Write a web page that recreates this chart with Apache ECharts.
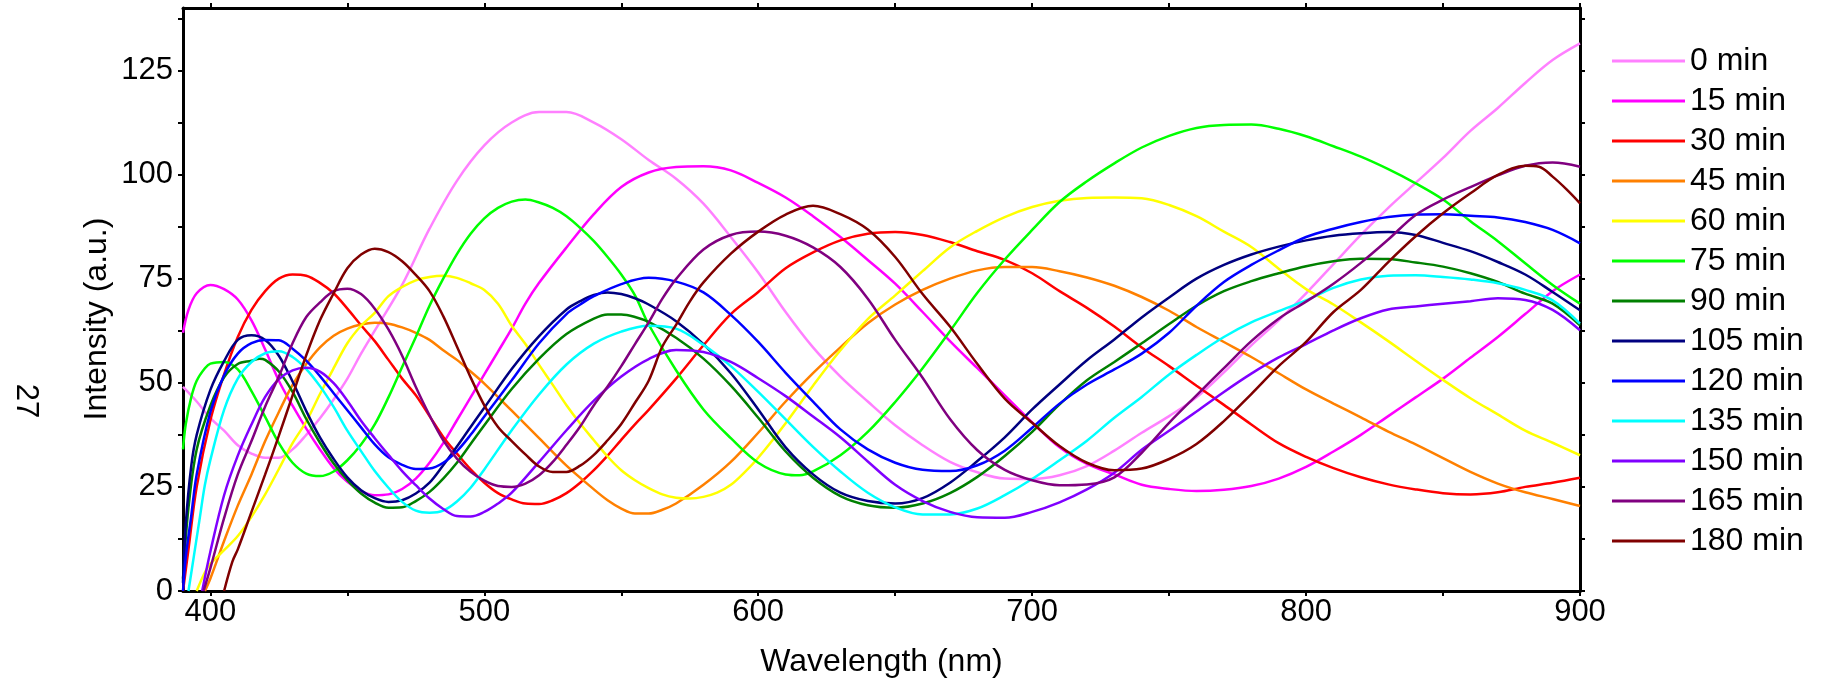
<!DOCTYPE html>
<html><head><meta charset="utf-8">
<script src="https://cdn.jsdelivr.net/npm/echarts@6/dist/echarts.min.js"></script>
<style>html,body{margin:0;padding:0;background:#fff}#c{width:1826px;height:686px}</style>
</head><body><div id="c"></div><script>
const seriesNames = ['0 min','15 min','30 min','45 min','60 min','75 min','90 min','105 min','120 min','135 min','150 min','165 min','180 min'];
const seriesColors = ['#FF80FF','#FF00FF','#FF0000','#FF8000','#FFFF00','#00FF00','#008000','#000080','#0000FF','#00FFFF','#8000FF','#800080','#800000'];
const xLabelValues = [400,500,600,700,800,900];
const xTickValues = [400,450,500,550,600,650,700,750,800,850,900];
const yLabelValues = [0,25,50,75,100,125];
const yTickValues = [0,12.5,25,37.5,50,62.5,75,87.5,100,112.5,125,137.5];

// [wavelength nm, intensity a.u.]
const s0 = [[390,49],[395,45.5],[400,41.5],[405,38.5],[410,35],[415,33],[420,32],[425,32],[430,34],[435,37.5],[440,41.5],[445,46],[450,51],[455,57],[460,62.5],[470,73.5],[480,87],[490,98.5],[500,107],[510,112.5],[520,115],[530,115],[540,112.5],[550,108.5],[560,103.5],[570,99],[580,93],[590,85],[600,76.5],[610,67],[620,58.5],[630,51.5],[640,45.5],[650,39.8],[660,35],[670,31],[680,28.5],[690,27],[700,26.9],[710,27.8],[720,30],[730,33.7],[740,38],[750,42],[760,46.5],[770,52.5],[780,59],[790,65],[800,71.5],[810,78.5],[820,85.5],[830,92],[840,98],[850,104],[860,110.5],[870,116],[880,122],[890,127.5],[900,131.5]];
const s15 = [[390,62],[392,67.5],[395,71.5],[400,73.5],[405,72.5],[410,70],[415,65],[420,58],[425,50.5],[430,44.5],[435,39],[440,34],[445,29.5],[450,26.2],[455,24],[460,23],[465,23.2],[470,24.5],[475,27],[480,30.8],[485,35.5],[490,41],[495,46.5],[500,52],[505,57.5],[510,63],[515,69],[520,74],[530,82.5],[540,90.5],[550,97],[560,100.5],[570,101.8],[580,102],[590,101],[600,98],[610,94.5],[620,90],[630,85],[640,79.5],[650,73.8],[660,67],[670,60],[680,53.5],[690,47],[700,40.5],[710,34.5],[720,30.5],[730,28],[740,25.5],[750,24.5],[760,24],[770,24.3],[780,25.2],[790,27],[800,29.8],[810,33.5],[820,37.5],[830,42],[840,46.5],[850,51],[860,56],[870,61],[880,66.5],[890,72],[900,76]];
const s30 = [[390,0],[392,10],[395,25],[400,41],[405,52],[410,61],[415,67.5],[420,72],[425,75],[430,76],[435,75.7],[440,74],[445,71.5],[450,67.8],[455,63.8],[460,60],[465,55.5],[470,51],[475,47],[480,42],[485,37],[490,33],[495,29.2],[500,26],[505,23.5],[510,22],[515,21],[520,20.9],[525,21.8],[530,23.5],[535,26],[540,29],[545,32.5],[550,36.3],[555,40],[560,43.5],[570,51],[580,59],[590,66.5],[600,71.8],[610,77.5],[620,81.3],[630,84.2],[640,85.8],[650,86.2],[660,85.5],[670,83.8],[680,81.6],[690,79.5],[700,76.3],[710,72],[720,68],[730,63.5],[740,58.5],[750,54],[760,49.3],[770,44.7],[780,40],[790,35.5],[800,32.2],[810,29.5],[820,27.3],[830,25.6],[840,24.4],[850,23.5],[860,23.2],[870,23.7],[880,25],[890,26],[900,27.2]];
const s45 = [[398,0],[400,3],[405,12],[410,20.5],[415,28],[420,36],[425,43],[430,49.5],[435,54.5],[440,58.5],[445,61.3],[450,63],[455,64],[460,64.4],[465,64.2],[470,63.3],[475,62],[480,60.3],[485,57.8],[490,55.5],[495,52.7],[500,49.8],[510,43.3],[520,36.7],[530,30.1],[540,24.4],[545,21.8],[550,19.8],[555,18.6],[560,18.6],[565,19.5],[570,21],[580,25.5],[590,31],[600,38],[610,45.5],[620,52.3],[630,58.5],[640,64.3],[650,68.8],[660,72.3],[670,75],[680,77],[690,77.8],[700,77.8],[710,76.8],[720,75.3],[730,73.3],[740,70.6],[750,67.3],[760,63.4],[770,59.8],[780,56.2],[790,52.3],[800,48.4],[810,45],[820,41.7],[830,38.3],[840,35.2],[850,31.9],[860,28.6],[870,25.8],[880,23.7],[890,22.1],[900,20.4]];
const s60 = [[395,0],[398,4.5],[400,6.5],[405,9.8],[410,13.2],[415,17.8],[420,23.2],[425,29.3],[430,35.5],[435,40.7],[440,47.3],[445,53.5],[450,59.5],[455,63.7],[460,66.8],[465,70.8],[470,73],[475,74.6],[480,75.4],[485,75.7],[490,75.2],[495,73.9],[500,72.3],[505,69],[510,63.7],[515,59.3],[520,54.3],[525,49.5],[530,44.6],[535,40.2],[540,36.2],[545,32.3],[550,29],[555,26.6],[560,24.7],[565,23.2],[570,22.4],[575,22.2],[580,22.6],[585,23.6],[590,25.5],[595,28.5],[600,32],[610,40.3],[620,49.3],[630,57.8],[640,65.3],[650,71],[660,76.8],[670,82.5],[680,86.5],[690,89.8],[700,92.2],[710,93.7],[720,94.4],[730,94.5],[740,94.3],[750,92.7],[760,90],[770,86.3],[780,82.6],[790,77.4],[800,72.5],[810,68.8],[820,64.5],[830,60],[840,55.3],[850,50.7],[860,46.3],[870,42.4],[880,38.5],[890,35.6],[900,32.6]];
const s75 = [[390,34],[391,40],[393,46.5],[395,50.5],[398,53.5],[400,54.6],[405,55],[410,53.2],[415,48],[420,41.8],[425,35.5],[430,30.8],[435,28.2],[440,27.6],[445,28.7],[450,31.4],[455,35.2],[460,40],[465,46.5],[470,53.8],[475,61],[480,68.5],[485,75],[490,80.9],[495,85.8],[500,89.5],[505,92],[510,93.5],[515,94],[520,93.3],[525,92],[530,90],[535,87.2],[540,84],[545,80.2],[550,76],[555,71],[560,64],[570,53],[580,43.6],[590,36.7],[600,30.8],[610,28],[615,27.8],[620,28.7],[630,32.6],[640,38.2],[650,45.4],[660,53.5],[670,62.4],[680,71.6],[690,79.6],[700,86.7],[710,93.4],[720,98.4],[730,102.7],[740,106.5],[750,109.3],[760,111.2],[770,111.9],[780,112],[790,111],[800,109.2],[810,106.8],[820,104.3],[830,101.3],[840,97.9],[850,94],[860,88.8],[870,84],[880,78.7],[890,73.5],[900,69]];
const s90 = [[390,3],[392,20],[395,34],[400,44.5],[405,51.3],[410,54.5],[415,55.3],[418,55.8],[420,55.5],[425,52.7],[430,47.8],[435,41.3],[440,35.6],[445,30.6],[450,26.6],[455,23.4],[460,21.2],[465,20],[470,20.1],[475,21.6],[480,23.8],[485,27],[490,30.8],[495,35.3],[500,39.8],[510,48.5],[520,55.8],[530,61.7],[540,65.4],[545,66.4],[550,66.4],[555,65.8],[560,64.6],[570,60.8],[580,55.8],[590,49.3],[600,41.6],[610,33.5],[620,27.2],[630,22.8],[640,20.6],[650,20],[660,21],[670,23.5],[680,27.4],[690,32.4],[700,38.2],[710,44.8],[720,50.6],[730,55],[740,59.5],[750,64.1],[760,68.5],[770,72],[780,74.4],[790,76.3],[800,78],[810,79.2],[820,79.8],[830,79.7],[840,78.9],[850,77.9],[860,76.3],[870,74.2],[880,71.4],[890,69],[900,63.8]];
const s105 = [[390,2],[391,16],[393,30],[395,37.5],[400,48.3],[405,55.2],[410,60.3],[415,61.4],[420,60.3],[425,56.5],[430,50.3],[435,43.2],[440,36.9],[445,31.7],[450,27.3],[455,24.2],[460,22.3],[465,21.4],[470,21.8],[475,23.4],[480,26],[485,30.2],[490,34.7],[495,39.4],[500,44],[510,53.3],[520,61.2],[530,67.6],[535,69.6],[540,71.1],[545,71.7],[550,71.3],[555,70.3],[560,68.8],[570,64.8],[580,59.3],[590,52.3],[600,43.6],[610,34.5],[620,28],[630,23.6],[640,21.6],[650,21],[660,22.3],[670,26],[680,31.2],[690,36.9],[700,43.6],[710,49.6],[720,55.4],[730,60.4],[740,65.7],[750,70.5],[760,75],[770,78.3],[780,80.8],[790,82.7],[800,84.2],[810,85.3],[820,85.9],[830,86.2],[840,85.5],[850,83.6],[860,81.6],[870,79],[880,76],[890,71.8],[900,67.4]];
const s120 = [[390,0],[391,8],[393,18],[395,28],[400,43],[405,51.8],[410,57],[415,59.5],[420,60.3],[425,60.2],[430,58.2],[435,55.3],[440,51.6],[445,47.5],[450,43.4],[455,39.3],[460,35.2],[465,32.1],[470,30.3],[475,29.3],[480,29.4],[485,30.8],[490,33.6],[495,37.5],[500,41.9],[510,50.6],[520,59.5],[530,66.5],[535,68.8],[540,70.8],[550,73.7],[560,75.2],[570,74.3],[580,71.7],[590,66.3],[600,59.8],[610,52.4],[620,45.5],[630,38.8],[640,34],[650,30.8],[660,29.1],[670,28.8],[680,30.2],[690,33.7],[700,39.2],[710,45],[720,49.6],[730,53.2],[740,57],[750,62],[760,68.5],[770,74.2],[780,78.3],[790,81.8],[800,85],[810,87],[820,88.6],[830,89.8],[840,90.4],[850,90.5],[860,90.1],[870,89.7],[880,88.6],[890,86.7],[900,83.5]];
const s135 = [[392,0],[394,8.5],[396,17],[398,25.5],[400,31.5],[405,43.5],[410,51],[415,55],[420,57.1],[425,57.6],[430,56.2],[435,53.3],[440,49.2],[445,44.2],[450,38.5],[455,33.6],[460,28.8],[465,24.8],[470,21.4],[475,19.3],[480,18.8],[485,19.3],[490,21.5],[495,24.8],[500,29.2],[510,38.6],[520,47.2],[530,54.4],[540,59.4],[550,62.3],[560,63.7],[570,63],[580,59.1],[590,54],[600,47.8],[610,41.2],[620,34.6],[630,28.7],[640,23.6],[650,20.1],[660,18.4],[670,18.4],[680,19.8],[690,23],[700,26.9],[710,31.4],[720,36.1],[730,41.6],[740,46.6],[750,52],[760,56.7],[770,61],[780,64.5],[790,67.2],[800,69.8],[810,72.8],[820,74.8],[830,75.7],[840,75.8],[850,75.4],[860,74.8],[870,73.9],[880,72.3],[890,69.8],[900,64.2]];
const s150 = [[397,0],[400,9.5],[405,23],[410,32.5],[415,40],[420,46.6],[425,50.9],[430,53],[435,53.6],[440,52.7],[445,49.9],[450,45.7],[455,40.9],[460,36.7],[465,32.7],[470,28.8],[475,25.4],[480,22.2],[485,19.7],[490,18],[495,17.9],[500,19],[505,21],[510,23.6],[520,31],[530,38.6],[540,45.7],[550,51.5],[560,55.7],[570,57.9],[580,57.4],[590,55],[600,51.1],[610,46.8],[620,41.9],[630,36.9],[640,31.1],[650,25.5],[660,21.6],[670,19],[680,17.7],[690,17.6],[700,19],[710,21.3],[720,24.4],[730,28.4],[740,33.9],[750,38.5],[760,43.1],[770,47.8],[780,52.2],[790,56.1],[800,59.3],[810,62.6],[820,65.5],[830,67.6],[840,68.3],[850,69],[860,69.6],[870,70.3],[880,69.9],[890,67.5],[900,62.6]];
const s165 = [[397.5,0],[400,5.5],[405,17.5],[410,28],[415,36],[420,44.3],[425,51.5],[430,59.5],[435,65.8],[440,69.3],[445,72],[450,72.6],[455,71.3],[460,67.8],[465,62.8],[470,56.5],[475,49],[480,42.2],[485,36.2],[490,31.8],[495,28.6],[500,26.5],[505,25.2],[510,25],[515,25.8],[520,27.8],[525,31],[530,35.1],[535,39.5],[540,44.6],[545,49.1],[550,54],[555,59.3],[560,64.5],[565,70.2],[570,74.9],[580,82],[590,85.5],[600,86.3],[610,85.3],[620,82.5],[630,77.8],[640,70.2],[650,60.3],[660,51.2],[670,41.3],[680,33.8],[690,29.1],[700,26.6],[710,25.4],[720,25.6],[730,27.3],[740,33.2],[750,40.4],[760,47],[770,53.5],[780,60],[790,65.4],[800,69.5],[810,73.8],[820,78.8],[830,84.4],[840,90.3],[850,94],[860,97],[870,99.8],[880,102.1],[890,102.9],[900,101.9]];
const s180 = [[405,0],[408,7],[410,10],[415,19],[420,28],[425,37.3],[430,47],[435,56.6],[440,65],[445,71.5],[450,77.5],[455,80.8],[460,82.2],[465,81.4],[470,79.2],[475,75.9],[480,72],[485,66],[490,58.7],[495,51.3],[500,44.6],[505,39.4],[510,36],[515,32.8],[520,29.9],[525,28.6],[530,28.6],[535,30.1],[540,32.7],[545,36.2],[550,40.1],[555,45.2],[560,50.5],[565,58.7],[570,63.9],[575,69.5],[580,74.1],[590,81],[600,86.3],[610,90.4],[620,92.5],[630,90.5],[640,86.8],[650,80.2],[660,71.3],[670,63.5],[680,54.5],[690,46.2],[700,40.4],[710,34.8],[720,30.8],[730,29],[740,29.4],[750,31.7],[760,35.3],[770,40.8],[780,47.3],[790,54],[800,59.8],[810,67],[820,72.3],[830,79],[840,85.2],[850,90.7],[860,95.5],[870,99.9],[880,102.1],[885,101.9],[890,99.5],[895,96.5],[900,93.1]];

const seriesData = [s0,s15,s30,s45,s60,s75,s90,s105,s120,s135,s150,s165,s180];
const FONT = 'Liberation Sans, Arial, sans-serif';

const chart = echarts.init(document.getElementById('c'), null, {renderer:'canvas'});
const axisLineStyle = {color:'#000', width:3};
chart.setOption({
  animation:false,
  backgroundColor:'#fff',
  grid:{left:183, right:246, top:8, bottom:95, containLabel:false},
  xAxis:[{
    type:'value', min:390, max:900, position:'bottom',
    axisLine:{show:true, onZero:false, lineStyle:axisLineStyle},
    axisTick:{show:true, customValues:xTickValues, length:5, lineStyle:{color:'#000', width:2}},
    axisLabel:{customValues:xLabelValues, fontSize:31, color:'#000', fontFamily:FONT, margin:6},
    splitLine:{show:false},
    name:'Wavelength (nm)', nameLocation:'middle', nameGap:55,
    nameTextStyle:{fontSize:32, color:'#000', fontFamily:FONT}
  },{
    type:'value', min:390, max:900, position:'top',
    axisLine:{show:true, onZero:false, lineStyle:axisLineStyle},
    axisTick:{show:true, customValues:xTickValues, length:5, lineStyle:{color:'#000', width:2}},
    axisLabel:{show:false}, splitLine:{show:false}
  }],
  yAxis:[{
    type:'value', min:0, max:140, position:'left',
    axisLine:{show:true, onZero:false, lineStyle:axisLineStyle},
    axisTick:{show:true, customValues:yTickValues, length:5, lineStyle:{color:'#000', width:2}},
    axisLabel:{customValues:yLabelValues, fontSize:31, color:'#000', fontFamily:FONT, margin:10},
    splitLine:{show:false}
  },{
    type:'value', min:0, max:140, position:'right',
    axisLine:{show:true, onZero:false, lineStyle:axisLineStyle},
    axisTick:{show:true, customValues:yTickValues, length:5, lineStyle:{color:'#000', width:2}},
    axisLabel:{show:false}, splitLine:{show:false}
  }],
  legend:{
    orient:'vertical', left:1607, top:40,
    itemWidth:73, itemHeight:3, itemGap:8, icon:'rect',
    data:seriesNames,
    textStyle:{fontSize:32, color:'#000', fontFamily:FONT, lineHeight:30}
  },
  graphic:[
    {type:'text', x:97, y:319, rotation:Math.PI/2,
     style:{text:'Intensity (a.u.)', font:'32px '+FONT, fill:'#000', align:'center', verticalAlign:'middle'}},
    {type:'text', x:26, y:401, rotation:-Math.PI/2,
     style:{text:'27', font:'31px '+FONT, fill:'#000', align:'center', verticalAlign:'middle'}}
  ],
  series: seriesData.map((d,i)=>({
    name:seriesNames[i], type:'line', xAxisIndex:0, yAxisIndex:0,
    data:d, showSymbol:false, smooth:0.35, clip:true,
    lineStyle:{color:seriesColors[i], width:2.5},
    itemStyle:{color:seriesColors[i]}
  }))
});
</script></body></html>
